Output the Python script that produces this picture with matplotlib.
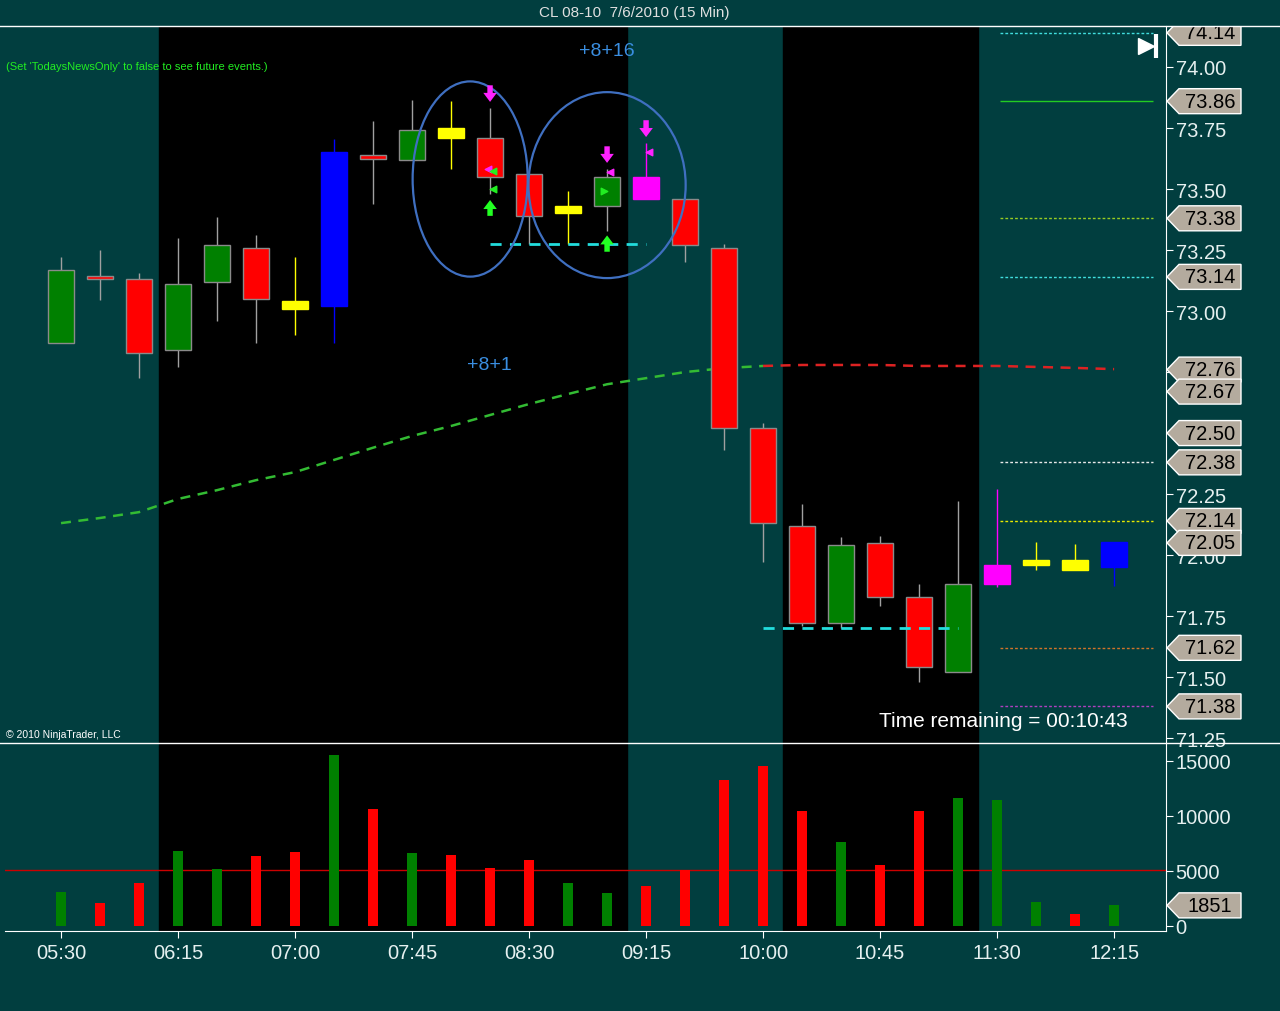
import numpy as np
import matplotlib
matplotlib.use('Agg')
import matplotlib.pyplot as plt
import matplotlib.transforms as mtransforms
from matplotlib.patches import Polygon, Ellipse

plt.rcParams['font.family'] = ['Liberation Sans', 'DejaVu Sans']

# datos de las velas (15 min);
horas = ['05:30', '06:15', '07:00', '07:45', '08:30', '09:15', '10:00', '10:45', '11:30', '12:15']
apertura = [72.87, 73.14, 73.13, 72.84, 73.12, 73.26, 73.04, 73.02, 73.64, 73.62, 73.71, 73.71, 73.56, 73.43,
            73.43, 73.46, 73.46, 73.26, 72.52, 72.12, 71.72, 72.05, 71.83, 71.52, 71.96, 71.96, 71.98, 71.95]
maximo = [73.22, 73.25, 73.155, 73.30, 73.385, 73.31, 73.22, 73.705, 73.78, 73.865, 73.86, 73.83, 73.56, 73.49,
          73.58, 73.69, 73.46, 73.275, 72.54, 72.21, 72.075, 72.08, 71.88, 72.22, 72.27, 72.055, 72.045, 72.055]
minimo = [72.87, 73.045, 72.725, 72.77, 72.96, 72.87, 72.90, 72.87, 73.44, 73.62, 73.58, 73.48, 73.275, 73.275,
          73.33, 73.46, 73.20, 72.43, 71.97, 71.71, 71.70, 71.79, 71.48, 71.52, 71.87, 71.94, 71.94, 71.875]
cierre = [73.17, 73.13, 72.83, 73.11, 73.27, 73.05, 73.01, 73.65, 73.625, 73.74, 73.75, 73.55, 73.39, 73.40,
          73.55, 73.55, 73.27, 72.52, 72.13, 71.72, 72.04, 71.83, 71.54, 71.88, 71.88, 71.98, 71.94, 72.055]
color_vela = ['g', 'r', 'r', 'g', 'g', 'r', 'y', 'b', 'r', 'g', 'y', 'r', 'r', 'y',
              'g', 'm', 'r', 'r', 'r', 'r', 'g', 'r', 'r', 'g', 'm', 'y', 'y', 'b']

# volumen;
volumen = [3070, 2050, 3855, 6750, 5120, 6325, 6660, 15510, 10630, 6570, 6385, 5210, 5965, 3855,
           2950, 3615, 5030, 13250, 14520, 10450, 7650, 5480, 10450, 11630, 11385, 2140, 1085, 1851]
color_vol = ['g', 'r', 'r', 'g', 'g', 'r', 'r', 'g', 'r', 'g', 'r', 'r', 'r', 'g',
             'g', 'r', 'r', 'r', 'r', 'r', 'g', 'r', 'r', 'g', 'g', 'g', 'r', 'g']
vol_media = 5030

# media móvil;
media = [72.131, 72.152, 72.176, 72.23, 72.266, 72.307, 72.34, 72.39, 72.44, 72.488, 72.529, 72.574, 72.619, 72.66,
         72.70, 72.725, 72.75, 72.766, 72.775, 72.779, 72.779, 72.779, 72.775, 72.775, 72.775, 72.771, 72.767, 72.762]

# niveles a la derecha;
niveles = [74.14, 73.86, 73.38, 73.14, 72.38, 72.14, 71.62, 71.38]
col_niveles = ['#40dede', '#22cc22', '#99cc22', '#40dede', '#e8e8e8', '#e8e800', '#d0742a', '#b040c0']
etiquetas = [74.14, 73.86, 73.38, 73.14, 72.76, 72.67, 72.50, 72.38, 72.14, 72.05, 71.62, 71.38]

# flechas (barra, cola, punta);
flechas_m = [(11, 73.925, 73.857), (14, 73.675, 73.607), (15, 73.782, 73.713)]
flechas_v = [(11, 73.39, 73.455), (14, 73.243, 73.31)]

fondo = '#013e3f'
colores = {'g': '#008000', 'r': '#ff0000', 'y': '#ffff00', 'b': '#0000ff', 'm': '#ff00ff'}
bordes = {'g': '#8a8a8a', 'r': '#8a8a8a', 'y': '#ffff00', 'b': '#0000ff', 'm': '#ff00ff'}
mechas = {'g': '#a0a0a0', 'r': '#a0a0a0', 'y': '#ffff00', 'b': '#0000ff', 'm': '#ff00ff'}

fig = plt.figure(figsize=(12.8, 10.12), dpi=100, facecolor=fondo)
ax = fig.add_axes([5/1280, 1-744/1012, 1161/1280, 717/1012], facecolor=fondo)
ax2 = fig.add_axes([5/1280, 1-932/1012, 1161/1280, 187/1012], facecolor=fondo)

x = np.arange(len(apertura))
ax.set_xlim(-1.436, 28.33)
ax2.set_xlim(-1.436, 28.33)
ax.set_ylim(71.23, 74.168)
ax2.set_ylim(-480, 16520)

for a in (ax, ax2):
    a.axvspan(2.5, 14.5, color='black', zorder=0)
    a.axvspan(18.5, 23.5, color='black', zorder=0)

# velas;
o = np.array(apertura); c = np.array(cierre)
ax.vlines(x, minimo, maximo, colors=[mechas[k] for k in color_vela], lw=1, zorder=2)
alto = np.maximum(np.abs(c - o), 0.012)
ax.bar(x, alto, bottom=np.minimum(o, c), width=0.68, color=[colores[k] for k in color_vela],
       edgecolor=[bordes[k] for k in color_vela], lw=1, zorder=3)

# media móvil;
ax.plot(x[:19], media[:19], color='#33bb33', lw=1.8, dashes=(4, 3), zorder=2)
ax.plot(x[18:], media[18:], color='#dd2222', lw=1.8, dashes=(4, 3), zorder=2)

# niveles;
for n, cn in zip(niveles, col_niveles):
    ls = '-' if n == 73.86 else (0, (2, 1.5))
    ax.hlines(n, 24.08, 28.0, colors=cn, linestyles=ls, lw=1, zorder=2)

# líneas cian;
ax.hlines(73.275, 11, 15, colors='#22dddd', linestyles=(0, (4, 3)), lw=2, zorder=4)
ax.hlines(71.70, 18, 23, colors='#22dddd', linestyles=(0, (4, 3)), lw=2, zorder=4)

# elipses;
ax.add_patch(Ellipse((10.49, 73.541), 2.95, 0.80, fill=False, edgecolor='#3f6fc0', lw=1.6, zorder=5))
ax.add_patch(Ellipse((14.0, 73.516), 4.03, 0.762, fill=False, edgecolor='#3f6fc0', lw=1.6, zorder=5))

# flechas;
estilo = 'simple,head_length=0.5,head_width=0.75,tail_width=0.3'
for b, t, p in flechas_m:
    ax.annotate('', xy=(b, p), xytext=(b, t), zorder=6,
                arrowprops=dict(arrowstyle=estilo, color='#ff22ff', lw=0, mutation_scale=13, shrinkA=0, shrinkB=0))
for b, t, p in flechas_v:
    ax.annotate('', xy=(b, p), xytext=(b, t), zorder=6,
                arrowprops=dict(arrowstyle=estilo, color='#22ff22', lw=0, mutation_scale=13, shrinkA=0, shrinkB=0))
ax.scatter([10.95, 14.08, 15.08], [73.582, 73.57, 73.652], marker='<', s=22, color='#ff22ff', zorder=6)
ax.scatter([11.08, 11.08], [73.574, 73.50], marker='<', s=22, color='#22ee22', zorder=6)
ax.scatter([13.93], [73.492], marker='>', s=22, color='#22ee22', zorder=6)

# textos;
ax.text(14.0, 74.066, '+8+16', color='#3a8ee0', fontsize=14, ha='center', va='center')
ax.text(10.97, 72.783, '+8+1', color='#3a8ee0', fontsize=14, ha='center', va='center')
ax.text(20.97, 71.324, 'Time remaining = 00:10:43', color='white', fontsize=15, ha='left', va='center')
ax.text(0.001, 0.944, "(Set 'TodaysNewsOnly' to false to see future events.)", transform=ax.transAxes,
        color='#22ee22', fontsize=8, ha='left', va='center')
ax.text(0.001, 0.013, '© 2010 NinjaTrader, LLC', transform=ax.transAxes, color='white', fontsize=7.5,
        ha='left', va='center')
ax.plot([0.9825], [0.972], marker='>', ms=12, color='white', transform=ax.transAxes, clip_on=False)
ax.plot([0.9915], [0.972], marker='|', ms=17, mew=3, color='white', transform=ax.transAxes, clip_on=False)
fig.text(634/1280, 1-13/1012, 'CL 08-10  7/6/2010 (15 Min)', color='#e0e0e0', fontsize=11, ha='center', va='center')

# ejes;
for a in (ax, ax2):
    for s in ('left', 'top', 'bottom'):
        a.spines[s].set_visible(False)
    a.spines['right'].set_color('white')
    a.yaxis.tick_right()
    a.tick_params(axis='y', colors='white', labelcolor='#e6f0f0', labelsize=14.5, length=5, pad=2)
ax.set_yticks(np.arange(71.25, 74.01, 0.25))
ax.set_yticklabels(['%.2f' % v for v in np.arange(71.25, 74.01, 0.25)])
ax.tick_params(axis='x', bottom=False, labelbottom=False)
ax2.spines['bottom'].set_visible(True)
ax2.spines['bottom'].set_color('white')
ax2.set_yticks([0, 5000, 10000, 15000])
ax2.set_xticks(x[::3])
ax2.set_xticklabels(horas)
ax2.tick_params(axis='x', colors='white', labelcolor='#e6f0f0', labelsize=14.5, length=5, pad=4)

# volumen;
ax2.bar(x, volumen, width=0.26, color=[colores[k] for k in color_vol], zorder=3)
ax2.axhline(vol_media, color='#cc0000', lw=1, zorder=2)

# etiquetas de precio (recortadas al alto del panel);
def etiqueta(a, valor, texto):
    tr = mtransforms.ScaledTranslation(1.0, valor, a.get_yaxis_transform())
    caja = mtransforms.TransformedBbox(mtransforms.Bbox([[0, 0], [1.2, 1]]), a.transAxes)
    p = Polygon([(1, 0), (13, 12.5), (75, 12.5), (75, -12.5), (13, -12.5)], closed=True, transform=tr,
                facecolor='#b4ab9e', edgecolor='white', lw=1, zorder=7)
    a.add_patch(p)
    p.set_clip_path(None)
    p.set_clip_box(caja)
    t = a.text(44, 0, texto, transform=tr, ha='center', va='center', fontsize=14.5, color='black', zorder=8)
    t.set_clip_on(True)
    t.set_clip_path(None)
    t.set_clip_box(caja)

for e in etiquetas:
    etiqueta(ax, e, '%.2f' % e)
etiqueta(ax2, volumen[-1], str(volumen[-1]))

# líneas de separación;
for yy in (27, 744):
    fig.add_artist(plt.Line2D([0, 1], [1-yy/1012, 1-yy/1012], transform=fig.transFigure, color='white', lw=1))

plt.savefig('out.png', dpi=100, facecolor=fondo)
